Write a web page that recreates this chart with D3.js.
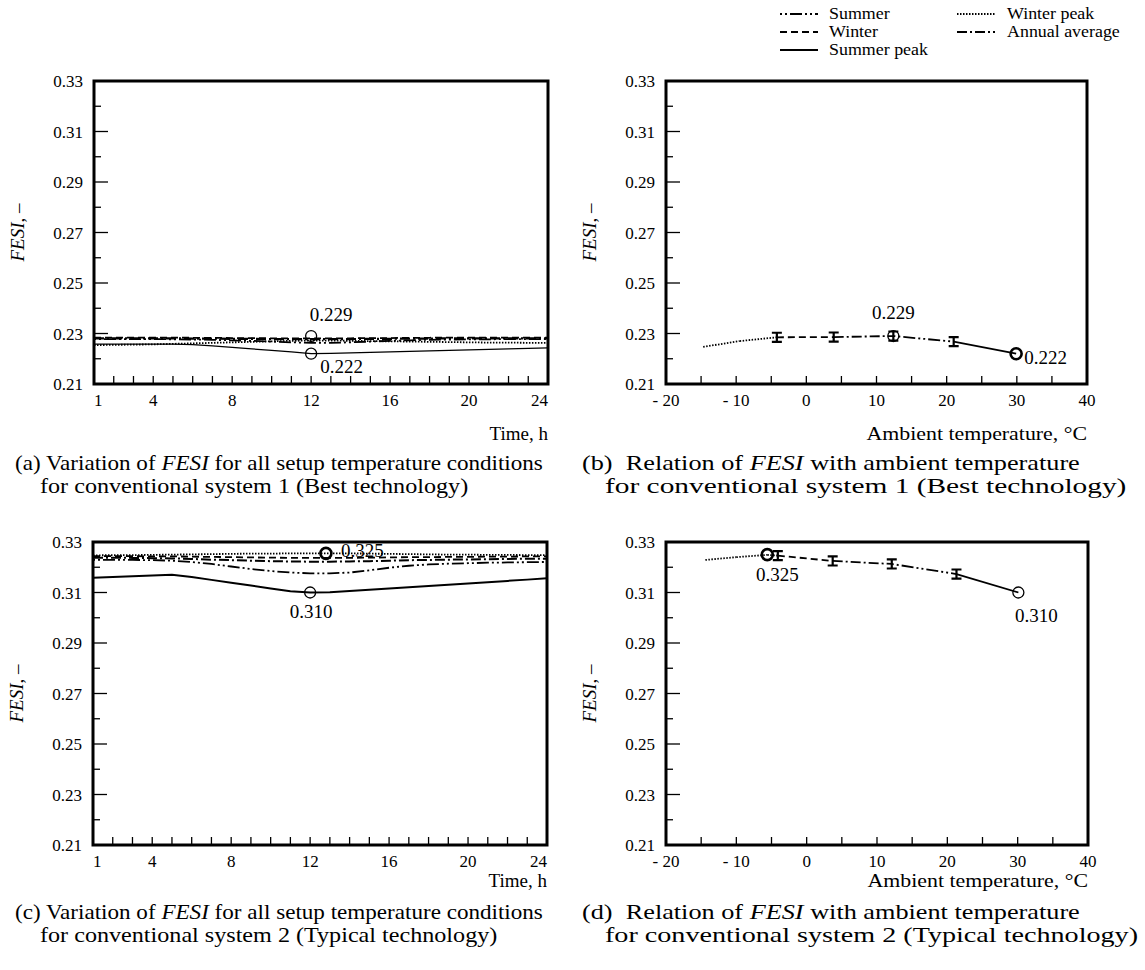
<!DOCTYPE html>
<html>
<head>
<meta charset="utf-8">
<script src="https://cdn.jsdelivr.net/npm/d3@7"></script>
<style>
body { margin: 0; background: #fff; }
text { font-family: "Liberation Serif", "Times New Roman", serif; fill: #000; white-space: pre; }
</style>
</head>
<body>
<svg width="1145" height="970"></svg>
<script>
/* DATA */
var hours = [1, 2, 3, 4, 5, 6, 7, 8, 9, 10, 11, 12, 13, 14, 15, 16, 17, 18, 19, 20, 21, 22, 23, 24];
var hourTicks = [2, 3, 4, 5, 6, 7, 8, 9, 10, 11, 12, 13, 14, 15, 16, 17, 18, 19, 20, 21, 22, 23];
var hourLabels = [1, 4, 8, 12, 16, 20, 24];
var tempTicks = [-15, -10, -5, 0, 5, 10, 15, 20, 25, 30, 35];
var tempLabels = [-20, -10, 0, 10, 20, 30, 40];
var yLabels = [0.21, 0.23, 0.25, 0.27, 0.29, 0.31, 0.33];
var yMinor = [0.22, 0.24, 0.26, 0.28, 0.30, 0.32];

var seriesKeys = ["summer", "winter", "summerPeak", "winterPeak", "annual"];
var seriesNames = ["Summer", "Winter", "Summer peak", "Winter peak", "Annual average"];

// (a) conventional system 1, hourly
var summerA     = [0.2278, 0.2278, 0.2278, 0.2278, 0.2277, 0.2276, 0.2275, 0.2273, 0.2271, 0.2268, 0.2265, 0.2263, 0.2263, 0.2265, 0.2268, 0.2271, 0.2273, 0.2275, 0.2276, 0.2277, 0.2277, 0.2278, 0.2278, 0.2278];
var winterA     = [0.2284, 0.2284, 0.2284, 0.2284, 0.2284, 0.2283, 0.2283, 0.2282, 0.2282, 0.2281, 0.2281, 0.2281, 0.2281, 0.2281, 0.2282, 0.2282, 0.2283, 0.2283, 0.2284, 0.2284, 0.2284, 0.2284, 0.2284, 0.2284];
var summerPeakA = [0.2258, 0.2258, 0.2258, 0.2258, 0.2258, 0.2256, 0.2251, 0.2245, 0.2239, 0.2233, 0.2227, 0.2220, 0.2221, 0.2223, 0.2225, 0.2227, 0.2229, 0.2231, 0.2233, 0.2235, 0.2237, 0.2239, 0.2241, 0.2243];
var winterPeakA = [0.2254, 0.2255, 0.2256, 0.2257, 0.2259, 0.2261, 0.2263, 0.2265, 0.2267, 0.2269, 0.2271, 0.2272, 0.2272, 0.2271, 0.2270, 0.2269, 0.2268, 0.2267, 0.2266, 0.2265, 0.2264, 0.2264, 0.2263, 0.2263];
var annualA     = [0.2281, 0.2281, 0.2281, 0.2281, 0.2281, 0.2280, 0.2280, 0.2279, 0.2279, 0.2278, 0.2278, 0.2278, 0.2278, 0.2278, 0.2279, 0.2279, 0.2280, 0.2280, 0.2281, 0.2281, 0.2281, 0.2281, 0.2281, 0.2281];
var markHourA = [12, 12];
var markValA = [0.229, 0.222];

// (b) conventional system 1 vs ambient temperature
var tempB = [-14.7, -9.5, -4.2, 3.9, 12.4, 21.0, 29.9];
var fesiB = [0.2247, 0.2270, 0.2285, 0.2286, 0.2290, 0.2268, 0.2220];
var errB  = [0, 0, 0.0018, 0.0018, 0.0018, 0.0018, 0];
var segB  = ["winterPeak", "winterPeak", "winter", "annual", "summer", "summerPeak"];
var markTempB = [12.4, 29.9];
var markValB = [0.229, 0.222];

// (c) conventional system 2, hourly
var summerC     = [0.3229, 0.3229, 0.3229, 0.3228, 0.3226, 0.3221, 0.3213, 0.3203, 0.3193, 0.3185, 0.3179, 0.3176, 0.3176, 0.3179, 0.3188, 0.3198, 0.3206, 0.3211, 0.3214, 0.3216, 0.3218, 0.3219, 0.3220, 0.3221];
var winterC     = [0.3244, 0.3244, 0.3244, 0.3243, 0.3243, 0.3242, 0.3241, 0.3240, 0.3239, 0.3238, 0.3237, 0.3237, 0.3237, 0.3237, 0.3238, 0.3239, 0.3240, 0.3240, 0.3241, 0.3241, 0.3242, 0.3242, 0.3243, 0.3243];
var summerPeakC = [0.3158, 0.3161, 0.3164, 0.3167, 0.3170, 0.3161, 0.3150, 0.3139, 0.3128, 0.3116, 0.3105, 0.3100, 0.3101, 0.3106, 0.3111, 0.3116, 0.3121, 0.3126, 0.3131, 0.3136, 0.3141, 0.3146, 0.3151, 0.3156];
var winterPeakC = [0.3247, 0.3248, 0.3248, 0.3249, 0.3250, 0.3251, 0.3252, 0.3253, 0.3254, 0.3254, 0.3255, 0.3255, 0.3255, 0.3255, 0.3254, 0.3253, 0.3252, 0.3251, 0.3250, 0.3250, 0.3249, 0.3249, 0.3248, 0.3248];
var annualC     = [0.3238, 0.3238, 0.3237, 0.3236, 0.3235, 0.3233, 0.3230, 0.3228, 0.3226, 0.3224, 0.3223, 0.3222, 0.3222, 0.3223, 0.3224, 0.3226, 0.3228, 0.3229, 0.3230, 0.3231, 0.3232, 0.3233, 0.3234, 0.3234];
var markHourC = [12.8, 12];
var markValC = [0.3255, 0.310];

// (d) conventional system 2 vs ambient temperature
var tempD = [-14.4, -10.0, -5.6, -4.1, 3.7, 12.1, 21.3, 30.1];
var fesiD = [0.3229, 0.3240, 0.3249, 0.3246, 0.3225, 0.3213, 0.3173, 0.3100];
var errD  = [0, 0, 0, 0.0018, 0.0018, 0.0018, 0.0018, 0];
var segD  = ["winterPeak", "winterPeak", "winterPeak", "winter", "annual", "summer", "summerPeak"];
var markTempD = [-5.6, 30.1];
var markValD = [0.325, 0.310];

/* STYLES */
var dash = {summer: "2,3,2,3,12,3", winter: "7,4", summerPeak: null, winterPeak: "1.5,1.5", annual: "10,3,2,3"};

var svg = d3.select("svg");

// text placed at (x, y) and widened sideways, the scanned figure's type is stretched
function wide(sel, x, y, sx) {
	return sel.attr("transform", "translate(" + x + "," + y + ") scale(" + sx + ",1)");
}

function panel(box, xDomain, xTicks, xLabels, xFmt, xTitle) {
	var g = svg.append("g");
	var x = d3.scaleLinear().domain(xDomain).range([box.left, box.right]);
	var y = d3.scaleLinear().domain([0.21, 0.33]).range([box.bottom, box.top]);

	// y ticks, inward from left border
	g.selectAll(".ymaj").data(yLabels).enter().append("line")
		.attr("x1", box.left).attr("x2", box.left + 14)
		.attr("y1", function (d) { return y(d); }).attr("y2", function (d) { return y(d); })
		.attr("stroke", "#000").attr("stroke-width", 1.3);
	g.selectAll(".ymin").data(yMinor).enter().append("line")
		.attr("x1", box.left).attr("x2", box.left + 7)
		.attr("y1", function (d) { return y(d); }).attr("y2", function (d) { return y(d); })
		.attr("stroke", "#000").attr("stroke-width", 1.3);
	g.selectAll(".ylab").data(yLabels).enter().append("text")
		.attr("x", box.left - 11).attr("y", function (d) { return y(d) + 6; })
		.attr("text-anchor", "end").attr("font-size", 17)
		.text(function (d) { return d3.format(".2f")(d); });

	// x ticks, inward from bottom
	g.selectAll(".xt").data(xTicks).enter().append("line")
		.attr("x1", function (d) { return x(d); }).attr("x2", function (d) { return x(d); })
		.attr("y1", box.bottom).attr("y2", box.bottom - 8)
		.attr("stroke", "#000").attr("stroke-width", 1.3);
	g.selectAll(".xl").data(xLabels).enter().append("text")
		.attr("x", function (d) { return x(d); }).attr("y", box.bottom + 22)
		.attr("text-anchor", function (d, i) {
			if (box.hourly && i == 0) return "start";
			if (box.hourly && i == xLabels.length - 1) return "end";
			return "middle";
		})
		.attr("font-size", 17)
		.text(xFmt);

	// frame
	g.append("rect")
		.attr("x", box.left).attr("y", box.top)
		.attr("width", box.right - box.left).attr("height", box.bottom - box.top)
		.attr("fill", "none").attr("stroke", "#000").attr("stroke-width", 3);

	// axis titles
	wide(g.append("text"), box.right, box.titleY, box.titleSx)
		.attr("text-anchor", "end").attr("font-size", 19)
		.text(xTitle);
	var yt = g.append("text")
		.attr("transform", "translate(" + (box.left - 70) + "," + (box.top + box.bottom) / 2 + ") rotate(-90)")
		.attr("text-anchor", "middle").attr("font-size", 19);
	yt.append("tspan").attr("font-style", "italic").text("FESI");
	yt.append("tspan").text(", \u2013");

	return {g: g, x: x, y: y};
}

function caption(x1, x2, y, sx1, sx2, tag, before, after, second) {
	var t = wide(svg.append("text"), x1, y, sx1).attr("font-size", 21);
	t.append("tspan").text(tag + before);
	t.append("tspan").attr("font-style", "italic").text("FESI");
	t.append("tspan").text(after);
	wide(svg.append("text"), x2, y + 23, sx2).attr("font-size", 21).text(second);
}

function hourly(p, series, widths) {
	var line = d3.line()
		.x(function (d, i) { return p.x(hours[i]); })
		.y(function (d) { return p.y(d); });
	seriesKeys.forEach(function (k, i) {
		p.g.append("path")
			.attr("d", line(series[i]))
			.attr("fill", "none").attr("stroke", "#000")
			.attr("stroke-width", widths[i])
			.attr("stroke-dasharray", dash[k]);
	});
}

function marks(p, xs, vs, labels, style) {
	xs.forEach(function (xv, i) {
		var cx = p.x(xv), cy = p.y(vs[i]);
		p.g.append("circle").attr("cx", cx).attr("cy", cy).attr("r", 5.5)
			.attr("fill", "none").attr("stroke", "#000").attr("stroke-width", style[i].w);
		p.g.append("text")
			.attr("x", cx + style[i].dx).attr("y", cy + style[i].dy)
			.attr("text-anchor", style[i].anchor).attr("font-size", 19)
			.text(labels[i]);
	});
}

function ambient(p, temps, vals, errs, segs) {
	segs.forEach(function (k, i) {
		p.g.append("line")
			.attr("x1", p.x(temps[i])).attr("y1", p.y(vals[i]))
			.attr("x2", p.x(temps[i + 1])).attr("y2", p.y(vals[i + 1]))
			.attr("stroke", "#000").attr("stroke-width", 1.8)
			.attr("stroke-dasharray", dash[k]);
	});
	temps.forEach(function (t, i) {
		if (!errs[i]) return;
		var cx = p.x(t), y0 = p.y(vals[i] - errs[i]), y1 = p.y(vals[i] + errs[i]);
		var path = d3.path();
		path.moveTo(cx, y0); path.lineTo(cx, y1);
		path.moveTo(cx - 5, y0); path.lineTo(cx + 5, y0);
		path.moveTo(cx - 5, y1); path.lineTo(cx + 5, y1);
		p.g.append("path").attr("d", path.toString())
			.attr("fill", "none").attr("stroke", "#000").attr("stroke-width", 2.2);
	});
}

var fmtHour = function (d) { return d; };
var fmtTemp = function (d) { return d < 0 ? "- " + Math.abs(d) : d; };

/* PANELS */
var pa = panel({left: 94, right: 548, top: 81, bottom: 384, titleY: 440, titleSx: 1, hourly: true},
	[1, 24], hourTicks, hourLabels, fmtHour, "Time, h");
hourly(pa, [summerA, winterA, summerPeakA, winterPeakA, annualA], [1.8, 1.8, 1.2, 1.8, 2.2]);
marks(pa, markHourA, markValA, ["0.229", "0.222"],
	[{w: 1.3, dx: 20, dy: -15, anchor: "middle"}, {w: 1.3, dx: 9, dy: 19, anchor: "start"}]);

var pb = panel({left: 666, right: 1087, top: 81, bottom: 384, titleY: 440, titleSx: 1.15},
	[-20, 40], tempTicks, tempLabels, fmtTemp, "Ambient temperature, \u00b0C");
ambient(pb, tempB, fesiB, errB, segB);
marks(pb, markTempB, markValB, ["0.229", "0.222"],
	[{w: 1.3, dx: 0, dy: -17, anchor: "middle"}, {w: 2.6, dx: 8, dy: 10, anchor: "start"}]);

var pc = panel({left: 93, right: 547, top: 542, bottom: 845, titleY: 887, titleSx: 1, hourly: true},
	[1, 24], hourTicks, hourLabels, fmtHour, "Time, h");
hourly(pc, [summerC, winterC, summerPeakC, winterPeakC, annualC], [1.8, 1.8, 2, 1.8, 2]);
marks(pc, markHourC, markValC, ["0.325", "0.310"],
	[{w: 2.6, dx: 15, dy: 4, anchor: "start"}, {w: 1.3, dx: 1, dy: 25, anchor: "middle"}]);

var pd = panel({left: 666, right: 1088, top: 542, bottom: 845, titleY: 887, titleSx: 1.15},
	[-20, 40], tempTicks, tempLabels, fmtTemp, "Ambient temperature, \u00b0C");
ambient(pd, tempD, fesiD, errD, segD);
marks(pd, markTempD, markValD, ["0.325", "0.310"],
	[{w: 2.6, dx: 10, dy: 26, anchor: "middle"}, {w: 1.3, dx: 18, dy: 29, anchor: "middle"}]);

/* CAPTIONS */
caption(15, 40, 470, 1.1, 1.15, "(a)", " Variation of ", " for all setup temperature conditions", "for conventional system 1 (Best technology)");
caption(582, 605, 470, 1.25, 1.4, "(b)", "  Relation of ", " with ambient temperature", "for conventional system 1 (Best technology)");
caption(15, 40, 919, 1.1, 1.15, "(c)", " Variation of ", " for all setup temperature conditions", "for conventional system 2 (Typical technology)");
caption(582, 605, 919, 1.25, 1.34, "(d)", "  Relation of ", " with ambient temperature", "for conventional system 2 (Typical technology)");

/* LEGEND */
var legendOrder = [0, 1, 2, 3, 4];
var legend = svg.append("g").selectAll("g").data(legendOrder).enter().append("g")
	.attr("transform", function (d, i) {
		var col = i < 3 ? 0 : 1, row = i < 3 ? i : i - 3;
		return "translate(" + (col ? 957 : 780) + "," + (14 + row * 18) + ")";
	});
legend.append("line")
	.attr("x1", 0).attr("x2", 38).attr("y1", 0).attr("y2", 0)
	.attr("stroke", "#000").attr("stroke-width", 2)
	.attr("stroke-dasharray", function (d) { return dash[seriesKeys[d]]; });
legend.each(function (d, i) {
	wide(d3.select(this).append("text"), i < 3 ? 49 : 50, 5, 1.12)
		.attr("font-size", 16)
		.text(seriesNames[d]);
});
</script>
</body>
</html>
